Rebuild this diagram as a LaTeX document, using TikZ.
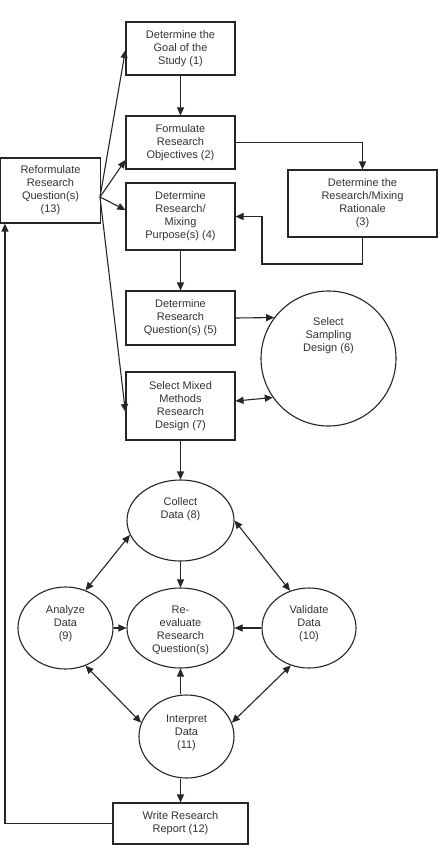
\documentclass[tikz,border=0pt]{standalone}
\usepackage{fontspec}
\setmainfont{Liberation Sans}
\usetikzlibrary{arrows.meta,shapes.geometric}
\definecolor{ln}{HTML}{262626}
\definecolor{tx}{HTML}{333333}
\begin{document}
\begin{tikzpicture}[x=1pt,y=-1pt,
  every node/.style={font=\fontsize{11}{13}\selectfont, text=tx, align=center, inner sep=0pt},
  box/.style={draw=ln, line width=1.1pt, rectangle},
  oval/.style={draw=ln, line width=1.1pt, ellipse},
  arr/.style={draw=ln, line width=1.1pt, -{Triangle[length=8pt,width=7pt]}},
  dbl/.style={draw=ln, line width=1.1pt, {Triangle[length=8pt,width=7pt]}-{Triangle[length=8pt,width=7pt]}}]
\useasboundingbox (0,0) rectangle (438,849);
\fill[white] (0,0) rectangle (438,849);

\node[box, minimum width=109pt, minimum height=53pt] (n1) at (180.5,48.5) {Determine the\\Goal of the\\Study (1)};
\node[box, minimum width=109pt, minimum height=53pt] (n2) at (180.5,142.5) {Formulate\\Research\\Objectives (2)};
\node[box, minimum width=100pt, minimum height=65pt] (n13) at (50.5,190.5) {Reformulate\\Research\\Question(s)\\(13)};
\node[box, minimum width=109pt, minimum height=67pt] (n4) at (180.5,216.5) {Determine\\Research/\\Mixing\\Purpose(s) (4)};
\node[box, minimum width=149pt, minimum height=67pt] (n3) at (362.5,203.5) {Determine the\\Research/Mixing\\Rationale\\(3)};
\node[box, minimum width=109pt, minimum height=54pt] (n5) at (180.5,318) {Determine\\Research\\Question(s) (5)};
\node[draw=ln, line width=1.1pt, circle, minimum size=135pt,
      label={[yshift=23pt]center:{Select\\Sampling\\Design (6)}}] (n6) at (328.5,358.5) {};
\node[box, minimum width=109pt, minimum height=68pt] (n7) at (180.5,406) {Select Mixed\\Methods\\Research\\Design (7)};
\node[oval, minimum width=107pt, minimum height=81pt,
      label={[yshift=11pt]center:{Collect\\Data (8)}}] (n8) at (180.5,520.5) {};
\node[oval, minimum width=107pt, minimum height=80pt,
      label={[yshift=-2pt]center:{Re-\\evaluate\\Research\\Question(s)}}] (re) at (180.5,628) {};
\node[oval, minimum width=95pt, minimum height=82pt,
      label={[yshift=4pt]center:{Analyze\\Data\\(9)}}] (n9) at (65.5,628) {};
\node[oval, minimum width=94pt, minimum height=80pt,
      label={[yshift=4pt]center:{Validate\\Data\\(10)}}] (n10) at (309,628) {};
\node[oval, minimum width=95pt, minimum height=83pt,
      label={[yshift=4pt]center:{Interpret\\Data\\(11)}}] (n11) at (186.5,736.5) {};
\node[box, minimum width=135pt, minimum height=41pt] (n12) at (180.5,823.5) {Write Research\\Report (12)};

\coordinate (fan) at (100,197);
\coordinate (c34) at (262,264);

\draw[arr] (n1.south) -- (n2.north);
\draw[arr] (n2.east) -| (n3.north);
\draw[arr] (n3.south) |- (c34) |- (n4.east);
\draw[arr] (n4.south) -- (n5.north);
\draw[arr] (fan) -- ([yshift=-1.5pt]n1.west);
\draw[arr] (fan) -- ([yshift=-17.5pt]n2.west);
\draw[arr] (fan) -- ([yshift=6.5pt]n4.west);
\draw[arr] (fan) -- ([yshift=-6pt]n7.west);
\draw[arr] (n5.east) -- (n6.143.13);
\draw[dbl] ([yshift=5pt]n7.east) -- (n6.215.8);
\draw[arr] (n7.south) -- (n8.north);
\draw[arr] (n8.south) -- (re.north);
\draw[arr] (re.south |- n11.north) -- (re.south);
\draw[arr] (n12.north |- n11.south) -- (n12.north);
\draw[arr] (n9.east) -- (re.west);
\draw[arr] (n10.west) -- (re.east);
\draw[dbl] (n8.196) -- (n9.62);
\draw[dbl] (n8.east) -- (n10.117);
\draw[dbl] (n9.298) -- (n11.163);
\draw[dbl] (n10.244) -- (n11.17);
\draw[arr] (n12.west) -| ([xshift=5pt]n13.south west);
\end{tikzpicture}
\end{document}
